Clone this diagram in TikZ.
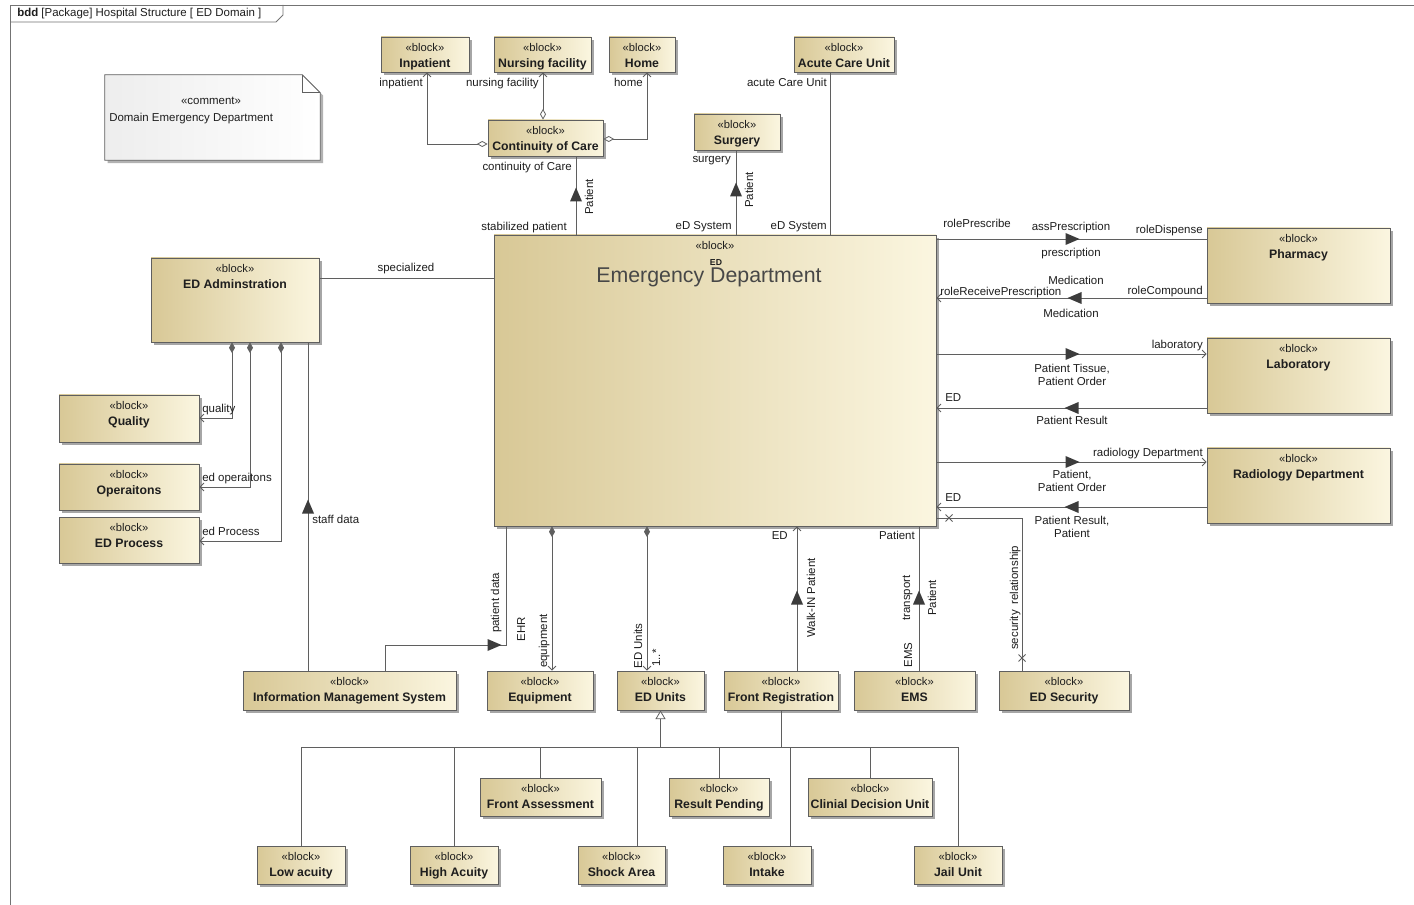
\documentclass[tikz,border=0pt]{standalone}
\usepackage{fontspec}
\setmainfont{Liberation Sans}
\usetikzlibrary{arrows.meta,shadows,calc}

\definecolor{blkA}{RGB}{216,200,150}
\definecolor{blkB}{RGB}{251,246,224}
\definecolor{edgec}{RGB}{95,95,95}
\definecolor{ink}{RGB}{30,30,30}
\definecolor{flowc}{RGB}{60,60,60}

\tikzset{
  blk/.style={draw=edgec, line width=0.6pt, left color=blkA, right color=blkB,
    general shadow={fill=black!35, shadow xshift=2.2pt, shadow yshift=-2.2pt}, inner sep=0pt},
  ster/.style={font=\fontsize{8.4}{9}\selectfont, text=ink, inner sep=0pt, text height=6.2pt, text depth=1.6pt},
  bname/.style={font=\fontsize{9.2}{10}\selectfont\bfseries, text=ink, inner sep=0pt, text height=6.8pt, text depth=1.9pt},
  mlbl/.style={font=\fontsize{8.6}{9.8}\selectfont, text=ink, inner sep=0pt, align=center},
  lbl/.style={mlbl, text height=6.3pt, text depth=1.8pt},
  conn/.style={draw=edgec, line width=0.6pt},
  framec/.style={draw=black!55, line width=0.7pt},
  nav/.tip={Straight Barb[length=3pt,width=6pt,line width=0.6pt]},
  odia/.tip={Diamond[open,fill=white,length=8pt,width=4.5pt,line width=0.6pt]},
  fdia/.tip={Diamond[length=8pt,width=4.5pt]},
  gen/.tip={Triangle[open,fill=white,length=6.5pt,width=7.5pt,line width=0.6pt]},
  flowU/.pic={\fill[flowc] (-6,6.5) -- (6,6.5) -- (0,-7.5) -- cycle;},
  flowR/.pic={\fill[flowc] (-6.5,-6) -- (-6.5,6) -- (7.5,0) -- cycle;},
  flowL/.pic={\fill[flowc] (6.5,-6) -- (6.5,6) -- (-7.5,0) -- cycle;},
  xmark/.pic={\draw[edgec,line width=0.6pt] (-3.5,-3.5) -- (3.5,3.5) (-3.5,3.5) -- (3.5,-3.5);},
}

% block: name, x1, y1, x2, y2, title (pixel-like units)
\newcommand\umlblock[6]{%
  \pgfmathsetmacro\blkw{(#4-#2)*0.75}%
  \pgfmathsetmacro\blkh{(#5-#3)*0.75}%
  \node[blk, minimum width=\blkw pt, minimum height=\blkh pt] (#1) at ({(#2+#4)/2},{(#3+#5)/2}) {};
  \node[ster] (#1-st) at ({(#2+#4)/2},{#3+11}) {«block»};
  \node[bname] (#1-nm) at ({(#2+#4)/2},{#3+27}) {#6};
}

\begin{document}
\begin{tikzpicture}[x=0.75pt,y=-0.75pt]
\useasboundingbox (0,0) rectangle (1414,905);
\fill[white] (0,0) rectangle (1414,905);

% diagram frame
\draw[framec] (10,905) -- (10,5) -- (1414,5);
\draw[framec] (10,22) -- (276,22) -- (283,15) -- (283,5);
\node[lbl, anchor=west] (frametitle) at (17,14) {\textbf{bdd} [Package] Hospital Structure [ ED Domain ]};

% comment note
\node[minimum width=161.25pt, minimum height=63.75pt, inner sep=0pt] (cmt) at (212.5,117.5) {};
\draw[draw=edgec, line width=0.6pt, left color=black!7, right color=white,
      general shadow={fill=black!30, shadow xshift=2.2pt, shadow yshift=-2.2pt}]
  (cmt.south west) -- (cmt.north west) -- ([xshift=-13.5pt]cmt.north east)
  -- ([yshift=-13.5pt]cmt.north east) -- (cmt.south east) -- cycle;
\draw[conn] ([xshift=-13.5pt]cmt.north east) |- ([yshift=-13.5pt]cmt.north east);
\node[lbl] (cmt-st) at (211,102) {«comment»};
\node[lbl, anchor=west] (cmt-tx) at (109,119) {Domain Emergency Department};

% blocks
\umlblock{inp}{381}{37}{469}{72}{Inpatient}
\umlblock{nur}{494}{37}{591}{72}{Nursing facility}
\umlblock{home}{609}{37}{675}{72}{Home}
\umlblock{acu}{794}{37}{894}{72}{Acute Care Unit}
\umlblock{coc}{488}{120}{603}{156}{Continuity of Care}
\umlblock{surg}{694}{114}{780}{150}{Surgery}
\umlblock{pha}{1207}{228}{1390}{303}{Pharmacy}
\umlblock{lab}{1207}{338}{1390}{413}{Laboratory}
\umlblock{rad}{1207}{448}{1390}{523}{Radiology Department}
\umlblock{adm}{151}{258}{319}{342}{ED Adminstration}
\umlblock{qua}{59}{395}{199}{442}{Quality}
\umlblock{ops}{59}{464}{199}{510}{Operaitons}
\umlblock{proc}{59}{517}{199}{563}{ED Process}
\umlblock{ims}{243}{671}{456}{710}{Information Management System}
\umlblock{equ}{487}{671}{593}{710}{Equipment}
\umlblock{units}{617}{671}{704}{710}{ED Units}
\umlblock{freg}{724}{671}{838}{710}{Front Registration}
\umlblock{ems}{854}{671}{975}{710}{EMS}
\umlblock{sec}{999}{671}{1129}{710}{ED Security}
\umlblock{fass}{480}{778}{601}{816}{Front Assessment}
\umlblock{rpen}{669}{778}{769}{816}{Result Pending}
\umlblock{cdu}{808}{778}{932}{816}{Clinial Decision Unit}
\umlblock{low}{257}{846}{345}{884}{Low acuity}
\umlblock{high}{410}{846}{498}{884}{High Acuity}
\umlblock{shock}{578}{846}{665}{884}{Shock Area}
\umlblock{intake}{723}{846}{811}{884}{Intake}
\umlblock{jail}{914}{846}{1002}{884}{Jail Unit}

% the central block
\node[blk, minimum width=331.5pt, minimum height=218.25pt] (ed) at (715,380.5) {};
\node[ster] (ed-st) at (715,246) {«block»};
\node[bname, font=\fontsize{6.5}{7}\selectfont\bfseries, text height=4.8pt, text depth=0pt] (ed-ic) at (716,262) {ED};
\node[mlbl, font=\fontsize{16}{18}\selectfont, text=black!72] (ed-nm) at (709,277) {Emergency Department};

% ---- connectors above the central block
\coordinate (jInp) at (427,144);
\draw[conn, odia-nav] (coc.west |- jInp) -- (jInp) -- (jInp |- inp.south);
\coordinate (xNur) at (543,0);
\draw[conn, odia-nav] (coc.north -| xNur) -- (nur.south -| xNur);
\coordinate (jHome) at (647,139);
\draw[conn, odia-nav] (coc.east |- jHome) -- (jHome) -- (jHome |- home.south);
\node[lbl, anchor=east] (l-inp) at (423,84) {inpatient};
\node[lbl, anchor=east] (l-nur) at (539,84) {nursing facility};
\node[lbl, anchor=east] (l-home) at (643,84) {home};

\coordinate (xCoc) at (576,0);
\draw[conn] (coc.south -| xCoc) -- (ed.north -| xCoc);
\pic at (576,195) {flowU};
\node[lbl, anchor=east] (l-coc1) at (572,168) {continuity of Care};
\node[lbl, rotate=90] (l-coc2) at (590,197) {Patient};
\node[lbl, anchor=east] (l-coc3) at (567,228) {stabilized patient};

\coordinate (xSurg) at (736,0);
\draw[conn] (surg.south -| xSurg) -- (ed.north -| xSurg);
\pic at (736,190) {flowU};
\node[lbl, anchor=east] (l-sur1) at (731,160) {surgery};
\node[lbl, rotate=90] (l-sur2) at (750,190) {Patient};
\node[lbl, anchor=east] (l-sur3) at (732,227) {eD System};

\coordinate (xAcu) at (830,0);
\draw[conn] (acu.south -| xAcu) -- (ed.north -| xAcu);
\node[lbl, anchor=east] (l-acu1) at (827,84) {acute Care Unit};
\node[lbl, anchor=east] (l-acu2) at (827,227) {eD System};

% ---- administration side
\coordinate (ySpec) at (0,278);
\draw[conn] (adm.east |- ySpec) -- (ed.west |- ySpec);
\node[lbl] (l-spec) at (406,269) {specialized};

\coordinate (jQua) at (232,418);
\draw[conn, fdia-nav] (adm.south -| jQua) -- (jQua) -- (qua.east |- jQua);
\coordinate (jOps) at (250,487);
\draw[conn, fdia-nav] (adm.south -| jOps) -- (jOps) -- (ops.east |- jOps);
\coordinate (jProc) at (281,541);
\draw[conn, fdia-nav] (adm.south -| jProc) -- (jProc) -- (proc.east |- jProc);
\node[lbl, anchor=west] (l-qua) at (202,410) {quality};
\node[lbl, anchor=west] (l-ops) at (202,479) {ed operaitons};
\node[lbl, anchor=west] (l-proc) at (202,532) {ed Process};

\coordinate (xStaff) at (308,0);
\draw[conn] (ims.north -| xStaff) -- (adm.south -| xStaff);
\pic at (308,507) {flowU};
\node[lbl, anchor=west] (l-staff) at (312,520) {staff data};

\coordinate (jPd1) at (385,645);
\coordinate (jPd2) at (506,645);
\draw[conn] (ims.north -| jPd1) -- (jPd1) -- (jPd2) -- (ed.south -| jPd2);
\pic at (494,645) {flowR};
\node[lbl, rotate=90] (l-pd) at (496,603) {patient data};
\node[lbl, rotate=90] (l-ehr) at (522,629) {EHR};

% ---- below the central block
\coordinate (xEqu) at (552,0);
\draw[conn, fdia-nav] (ed.south -| xEqu) -- (equ.north -| xEqu);
\node[lbl, rotate=90] (l-equ) at (544,641) {equipment};

\coordinate (xUnits) at (647,0);
\draw[conn, fdia-nav] (ed.south -| xUnits) -- (units.north -| xUnits);
\node[lbl, rotate=90] (l-units) at (639,646) {ED Units};
\node[lbl, rotate=90] (l-mult) at (657,658) {1..*};

\coordinate (xFreg) at (797,0);
\draw[conn, -nav] (freg.north -| xFreg) -- (ed.south -| xFreg);
\pic at (797,598) {flowU};
\node[lbl, anchor=east] (l-fr1) at (788,536) {ED};
\node[lbl, rotate=90] (l-fr2) at (812,598) {Walk-IN Patient};

\coordinate (xEms) at (919,0);
\draw[conn] (ems.north -| xEms) -- (ed.south -| xEms);
\pic at (919,598) {flowU};
\node[lbl, anchor=east] (l-ems1) at (915,536) {Patient};
\node[lbl, rotate=90] (l-ems2) at (907,598) {transport};
\node[lbl, rotate=90] (l-ems3) at (933,598) {Patient};
\node[lbl, rotate=90] (l-ems4) at (909,655) {EMS};

\coordinate (jSec) at (1022,518);
\draw[conn] (ed.east |- jSec) -- (jSec) -- (jSec |- sec.north);
\pic at (949,518) {xmark};
\pic at (1022,658) {xmark};
\node[lbl, rotate=90] (l-sec1) at (1015,630) {security};
\node[lbl, rotate=90] (l-sec2) at (1015,575) {relationship};

% ---- pharmacy, laboratory and radiology
\coordinate (yPre) at (0,239);
\draw[conn] (ed.east |- yPre) -- (pha.west |- yPre);
\pic at (1072,239) {flowR};
\node[lbl, anchor=west] (l-pre1) at (943,225) {rolePrescribe};
\node[lbl] (l-pre2) at (1071,228) {assPrescription};
\node[lbl, anchor=east] (l-pre3) at (1203,231) {roleDispense};
\node[lbl] (l-pre4) at (1071,254) {prescription};

\coordinate (yMed) at (0,298);
\draw[conn, -nav] (pha.west |- yMed) -- (ed.east |- yMed);
\pic at (1075,298) {flowL};
\node[lbl, anchor=west] (l-med1) at (940,293) {roleReceivePrescription};
\node[lbl] (l-med2) at (1076,282) {Medication};
\node[lbl, anchor=east] (l-med3) at (1203,292) {roleCompound};
\node[lbl] (l-med4) at (1071,315) {Medication};

\coordinate (yLab) at (0,354);
\draw[conn, -nav] (ed.east |- yLab) -- (lab.west |- yLab);
\pic at (1072,354) {flowR};
\node[lbl, anchor=east] (l-lab1) at (1203,346) {laboratory};
\node[mlbl] (l-lab2) at (1072,375) {Patient Tissue,\\Patient Order};

\coordinate (yLabR) at (0,408);
\draw[conn, -nav] (lab.west |- yLabR) -- (ed.east |- yLabR);
\pic at (1072,408) {flowL};
\node[lbl, anchor=west] (l-labr1) at (945,399) {ED};
\node[lbl] (l-labr2) at (1072,422) {Patient Result};

\coordinate (yRad) at (0,462);
\draw[conn, -nav] (ed.east |- yRad) -- (rad.west |- yRad);
\pic at (1072,462) {flowR};
\node[lbl, anchor=east] (l-rad1) at (1203,453) {radiology Department};
\node[mlbl] (l-rad2) at (1072,481) {Patient,\\Patient Order};

\coordinate (yRadR) at (0,507);
\draw[conn, -nav] (rad.west |- yRadR) -- (ed.east |- yRadR);
\pic at (1072,507) {flowL};
\node[lbl, anchor=west] (l-radr1) at (945,498) {ED};
\node[mlbl] (l-radr2) at (1072,527) {Patient Result,\\Patient};

% ---- generalization tree of the ED units
\coordinate (yTree) at (0,747);
\draw[conn, gen-] (units.south) -- (units.south |- yTree);
\draw[conn] (freg.south) -- (freg.south |- yTree);
\draw[conn] (low.north |- yTree) -- (jail.north |- yTree);
\draw[conn] (low.north |- yTree) -- (low.north);
\draw[conn] (high.north |- yTree) -- (high.north);
\draw[conn] (fass.north |- yTree) -- (fass.north);
\coordinate (xShock) at (637,0);
\draw[conn] (xShock |- yTree) -- (xShock |- shock.north);
\draw[conn] (rpen.north |- yTree) -- (rpen.north);
\coordinate (xIntake) at (790,0);
\draw[conn] (xIntake |- yTree) -- (xIntake |- intake.north);
\draw[conn] (cdu.north |- yTree) -- (cdu.north);
\draw[conn] (jail.north |- yTree) -- (jail.north);
\end{tikzpicture}
\end{document}
